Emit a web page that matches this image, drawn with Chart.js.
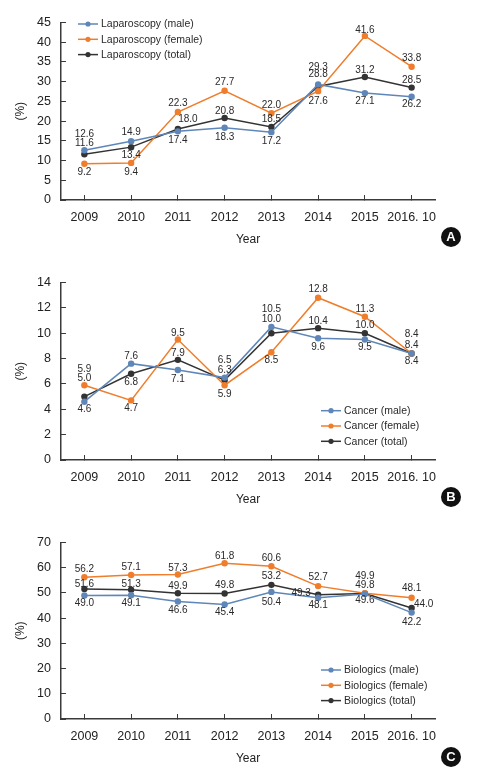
<!DOCTYPE html>
<html>
<head>
<meta charset="utf-8">
<script src="https://cdn.jsdelivr.net/npm/chart.js@4.4.1/dist/chart.umd.min.js"></script>
<style>
  body { margin: 0; background: #fff; }
  #wrap { position: relative; width: 483px; height: 782px; }
  canvas { position: absolute; left: 0; }
</style>
</head>
<body>
<div id="wrap">
  <canvas id="chartA" width="483" height="260" style="top:0"></canvas>
  <canvas id="chartB" width="483" height="260" style="top:260px"></canvas>
  <canvas id="chartC" width="483" height="262" style="top:520px"></canvas>
</div>
<script>
const years = ['2009', '2010', '2011', '2012', '2013', '2014', '2015', '2016. 10'];

const lapMale = [12.6, 14.9, 17.4, 18.3, 17.2, 29.3, 27.1, 26.2];
const lapFemale = [9.2, 9.4, 22.3, 27.7, 22.0, 27.6, 41.6, 33.8];
const lapTotal = [11.6, 13.4, 18.0, 20.8, 18.5, 28.8, 31.2, 28.5];

const canMale = [4.6, 7.6, 7.1, 6.5, 10.5, 9.6, 9.5, 8.4];
const canFemale = [5.9, 4.7, 9.5, 5.9, 8.5, 12.8, 11.3, 8.4];
const canTotal = [5.0, 6.8, 7.9, 6.3, 10.0, 10.4, 10.0, 8.4];

const bioMale = [49.0, 49.1, 46.6, 45.4, 50.4, 48.1, 49.6, 42.2];
const bioFemale = [56.2, 57.1, 57.3, 61.8, 60.6, 52.7, 49.9, 48.1];
const bioTotal = [51.6, 51.3, 49.9, 49.8, 53.2, 49.3, 49.8, 44.0];

const yTicksA = { max: 45, step: 5 };
const yTicksB = { max: 14, step: 2 };
const yTicksC = { max: 70, step: 10 };

// value label nudges (pixels), kept apart from the data
const lapLabelDy = [[-16, -9, 9, 9, 9, -17, 8, 8], [9, 9, -9, -8, -8, 10, -6, -8], [-11, 8, -10, -7, -8, -12, -7, -7]];
const lapLabelDx = [[0, 0, 0, 0, 0, 0, 0, 0], [0, 0, 0, 0, 0, 0, 0, 0], [0, 0, 10, 0, 0, 0, 0, 0]];
const canLabelDy = [[8, -7, 9, -17, -18, 9, 8, 8], [-16, 8, -6, 9, 8, -8, -7, -19], [-18, 8, -7, -10, -14, -7, -8, -8]];
const canLabelDx = [[0, 0, 0, 0, 0, 0, 0, 0], [0, 0, 0, 0, 0, 0, 0, 0], [0, 0, 0, 0, 0, 0, 0, 0]];
const bioLabelDy = [[8, 8, 9, 8, 10, 8, 6, 10], [-8, -8, -6, -7, -8, -9, -17, -9], [-5, -5, -7, -8, -9, -1, -8, -4]];
const bioLabelDx = [[0, 0, 0, 0, 0, 0, 0, 0], [0, 0, 0, 0, 0, 0, 0, 0], [0, 0, 0, 0, 0, -17, 0, 12]];

const colMale = '#5f86b8';
const colFemale = '#ef7d2b';
const colTotal = '#333333';
const axisCol = '#3a3a3a';
const textCol = '#222222';
const FONT = "'Liberation Sans', Arial, sans-serif";

Chart.defaults.font.family = FONT;
Chart.defaults.color = textCol;

const valueLabels = {
  id: 'valueLabels',
  afterDatasetsDraw(chart, args, opts) {
    const ctx = chart.ctx;
    ctx.save();
    ctx.font = '10px ' + FONT;
    ctx.fillStyle = '#2a2a2a';
    ctx.textAlign = 'center';
    ctx.textBaseline = 'middle';
    chart.data.datasets.forEach((ds, i) => {
      const meta = chart.getDatasetMeta(i);
      meta.data.forEach((pt, j) => {
        const dx = opts.dx[i][j];
        const dy = opts.dy[i][j];
        ctx.fillText(ds.data[j].toFixed(1), pt.x + dx, pt.y + dy);
      });
    });
    ctx.restore();
  }
};

const lineLegend = {
  id: 'lineLegend',
  afterDraw(chart, args, opts) {
    const ctx = chart.ctx;
    ctx.save();
    ctx.font = '10.5px ' + FONT;
    ctx.textAlign = 'left';
    ctx.textBaseline = 'middle';
    chart.data.datasets.forEach((ds, i) => {
      const y = opts.y + i * 15.3;
      ctx.strokeStyle = ds.borderColor;
      ctx.lineWidth = 1.5;
      ctx.beginPath();
      ctx.moveTo(opts.x, y);
      ctx.lineTo(opts.x + 20, y);
      ctx.stroke();
      ctx.fillStyle = ds.borderColor;
      ctx.beginPath();
      ctx.arc(opts.x + 10, y, 2.6, 0, Math.PI * 2);
      ctx.fill();
      ctx.fillStyle = '#2a2a2a';
      ctx.fillText(ds.label, opts.x + 23, y + 0.5);
    });
    ctx.restore();
  }
};

const badge = {
  id: 'badge',
  afterDraw(chart, args, opts) {
    const ctx = chart.ctx;
    ctx.save();
    ctx.fillStyle = '#111';
    ctx.beginPath();
    ctx.arc(451, 237, 10, 0, Math.PI * 2);
    ctx.fill();
    ctx.fillStyle = '#fff';
    ctx.font = "bold 13px 'Liberation Sans', sans-serif";
    ctx.textAlign = 'center';
    ctx.textBaseline = 'middle';
    ctx.fillText(opts.letter, 451, 237.5);
    ctx.restore();
  }
};

function series(label, data, color) {
  return {
    label: label,
    data: data,
    borderColor: color,
    backgroundColor: color,
    borderWidth: 1.5,
    pointRadius: 3.2,
    pointHoverRadius: 3.2,
    pointBorderWidth: 0,
    tension: 0
  };
}

function makeChart(id, name, male, female, total, yTicks, plotBottom, labelDx, labelDy, legendPos, letter) {
  const ctx = document.getElementById(id).getContext('2d');
  return new Chart(ctx, {
    type: 'line',
    data: {
      labels: years,
      datasets: [
        series(name + ' (male)', male, colMale),
        series(name + ' (female)', female, colFemale),
        series(name + ' (total)', total, colTotal)
      ]
    },
    options: {
      responsive: false,
      animation: false,
      events: [],
      layout: { padding: { top: 19, bottom: plotBottom, left: 0, right: 48 } },
      scales: {
        x: {
          offset: true,
          grid: { drawOnChartArea: false, tickLength: -5, color: axisCol, lineWidth: 1 },
          border: { color: axisCol, width: 1.5 },
          ticks: { padding: 15, font: { size: 12.5 }, color: textCol, maxRotation: 0, autoSkip: false },
          title: { display: true, text: 'Year', font: { size: 12 }, color: textCol, padding: { top: 0, bottom: 1 } },
          afterFit: (s) => { s.height = 48; }
        },
        y: {
          min: 0,
          max: yTicks.max,
          grid: { drawOnChartArea: false, tickLength: -5, color: axisCol, lineWidth: 1 },
          border: { color: axisCol, width: 1.5 },
          ticks: { stepSize: yTicks.step, padding: 15, font: { size: 12.5 }, color: textCol, autoSkip: false },
          title: { display: true, text: '(%)', font: { size: 12 }, color: textCol, padding: { top: 13, bottom: 0 } },
          afterFit: (s) => { s.width = 61; }
        }
      },
      plugins: {
        legend: { display: false },
        tooltip: { enabled: false },
        valueLabels: { dx: labelDx, dy: labelDy },
        lineLegend: legendPos,
        badge: { letter: letter }
      }
    },
    plugins: [valueLabels, lineLegend, badge]
  });
}

makeChart('chartA', 'Laparoscopy', lapMale, lapFemale, lapTotal, yTicksA, 12, lapLabelDx, lapLabelDy, { x: 78, y: 24 }, 'A');
makeChart('chartB', 'Cancer', canMale, canFemale, canTotal, yTicksB, 12, canLabelDx, canLabelDy, { x: 321, y: 150.7 }, 'B');
makeChart('chartC', 'Biologics', bioMale, bioFemale, bioTotal, yTicksC, 15, bioLabelDx, bioLabelDy, { x: 321, y: 150 }, 'C');
</script>
</body>
</html>
